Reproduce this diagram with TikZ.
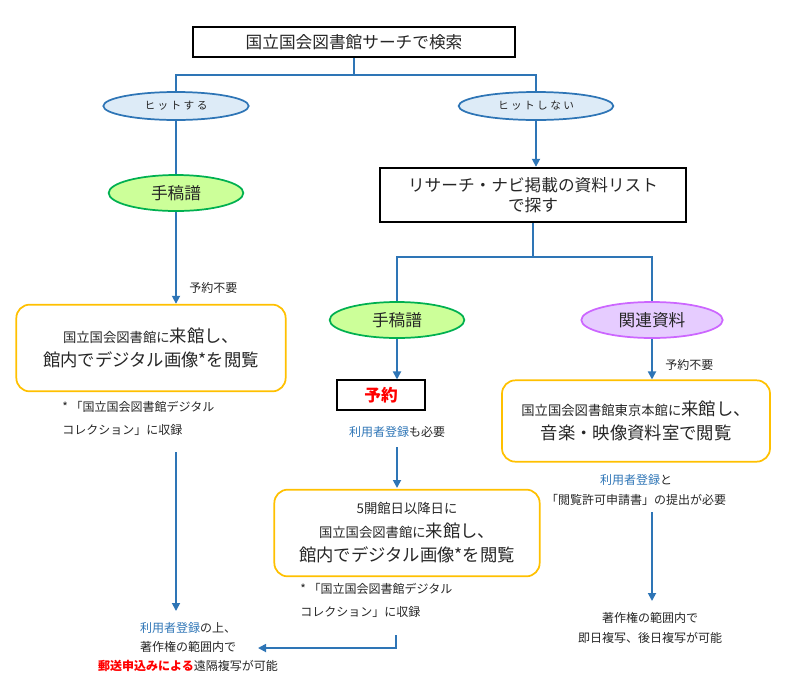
\documentclass[tikz,border=0pt]{standalone}
\usepackage{fontspec}
\setmainfont{Noto Sans CJK JP}
\usetikzlibrary{positioning,arrows.meta,shapes.geometric}
\definecolor{palBlue}{HTML}{2E75B6}
\definecolor{palBlueLt}{HTML}{DDEBF7}
\definecolor{palGreen}{HTML}{00B050}
\definecolor{palGreenLt}{HTML}{CCFF99}
\definecolor{palPurple}{HTML}{CC66FF}
\definecolor{palPurpleLt}{HTML}{E6CCFF}
\definecolor{palYellow}{HTML}{FFC000}
\definecolor{palRed}{HTML}{FF0000}
\definecolor{palText}{HTML}{262626}
\newcommand{\sm}[1]{{\fontsize{10}{12}\selectfont #1}}
\newcommand{\reg}{\textcolor{palBlue}{利用者登録}}
\tikzset{
  stepbox/.style={draw, line width=1.3pt, font=\fontsize{12.5}{15}\selectfont,
                  align=center, inner sep=0pt},
  hitnode/.style={ellipse, draw=palBlue, fill=palBlueLt, line width=1.3pt,
                  font=\fontsize{8}{9}\selectfont, inner sep=0pt},
  kindnode/.style={ellipse, line width=1.3pt, font=\fontsize{12.5}{14}\selectfont,
                   inner sep=0pt, minimum height=27pt},
  visitbox/.style={draw=palYellow, rounded corners=10pt, line width=1.3pt,
                   align=center, font=\fontsize{13}{18}\selectfont, inner sep=0pt},
  notenode/.style={align=left, font=\fontsize{9}{17}\selectfont, inner sep=0pt},
  infonode/.style={align=center, font=\fontsize{9}{14.5}\selectfont, inner sep=0pt},
  waitlabel/.style={text=palText, font=\fontsize{9}{10}\selectfont},
  stdarrow/.style={-{Triangle[length=6pt,width=6pt]}, palBlue, line width=1.3pt},
  stdline/.style={palBlue, line width=1.3pt},
}
\begin{document}
\begin{tikzpicture}[x=0.75pt, y=-0.75pt, text=palText]
\useasboundingbox (0,0) rectangle (789,697);
%% Search
\node[stepbox, minimum width=241pt, minimum height=23pt] (search) at (354,42) {国立国会図書館サーチで検索};
\node[hitnode, minimum width=109pt, minimum height=21pt] (hit) at (176,106) {ヒ ッ ト す る};
\node[hitnode, minimum width=116pt, minimum height=21pt] (nohit) at (536,106) {ヒ ッ ト し な い};
\coordinate (split) at (354,75);
\draw[stdline] (search.south) -- (split) -| (hit.north);
\draw[stdline] (split) -| (nohit.north);
%% Hit branch
\node[kindnode, draw=palGreen, fill=palGreenLt, minimum width=101pt] (msA) at (176,193) {手稿譜};
\node[visitbox, minimum width=202pt, minimum height=65pt] (visitA) at (151,348)
  {\sm{国立国会図書館に}来館し、\\館内でデジタル画像*を閲覧};
\node[notenode, anchor=north west] (noteA) at (62,401) {*\ 「国立国会図書館デジタル\\コレクション」に収録};
\node[infonode] (copyA) at (188,647) {\reg の上、\\著作権の範囲内で\\\textcolor{palRed}{\textbf{郵送申込みによる}}遠隔複写が可能};
\draw[stdline] (hit.south) -- (msA.north);
\draw[stdarrow] (msA.south) -- node[waitlabel, right=6pt, pos=0.83] {予約不要} (visitA.north -| msA.south);
\draw[stdarrow] (176,452) -- (176,611);
%% No hit branch
\node[stepbox, minimum width=230pt, minimum height=41pt] (navi) at (533,195) {リサーチ・ナビ掲載の資料リスト\\で探す};
\draw[stdarrow] (nohit.south) -- (nohit.south |- navi.north);
\node[kindnode, draw=palGreen, fill=palGreenLt, minimum width=101pt] (msB) at (397,320) {手稿譜};
\node[kindnode, draw=palPurple, fill=palPurpleLt, minimum width=106pt] (rel) at (652,320) {関連資料};
\coordinate (split2) at (533,257);
\draw[stdline] (navi.south) -- (split2) -| (msB.north);
\draw[stdline] (split2) -| (rel.north);
%% Manuscript
\node[draw, line width=1.3pt, minimum width=66pt, minimum height=22pt, text=palRed,
      font=\fontsize{12.5}{14}\selectfont\bfseries] (rsv) at (381,395) {予約};
\node[infonode] (regB) at (397,432) {\reg も必要};
\node[visitbox, minimum width=199pt, minimum height=65pt] (visitB) at (407,533)
  {\sm{5開館日以降日に}\\\sm{国立国会図書館に}来館し、\\館内でデジタル画像*を閲覧};
\node[notenode, anchor=north west] (noteB) at (300,583) {*\ 「国立国会図書館デジタル\\コレクション」に収録};
\draw[stdarrow] (msB.south) -- (msB.south |- rsv.north);
\draw[stdarrow] (397,447) -- (397,488);
\draw[stdarrow] (396,635) -- (396,648) -- (258,648);
%% Related materials
\node[visitbox, minimum width=201pt, minimum height=61pt] (visitC) at (636,421)
  {\sm{国立国会図書館東京本館に}来館し、\\音楽・映像資料室で閲覧};
\node[infonode] (regC) at (636,490) {\reg と\\「閲覧許可申請書」の提出が必要};
\node[infonode] (copyC) at (650,628) {著作権の範囲内で\\即日複写、後日複写が可能};
\draw[stdarrow] (rel.south) -- node[waitlabel, right=6pt, pos=0.65] {予約不要} (rel.south |- visitC.north);
\draw[stdarrow] (652,512) -- (652,601);
\end{tikzpicture}
\end{document}
